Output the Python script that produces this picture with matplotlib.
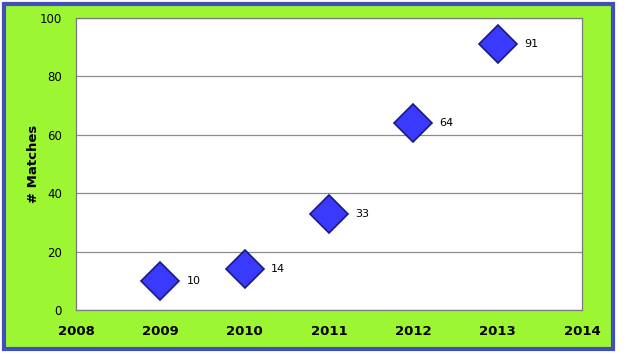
import matplotlib.pyplot as plt
from matplotlib.patches import Rectangle

years = [2009, 2010, 2011, 2012, 2013]
matches = [10, 14, 33, 64, 91]
x_ticks = [2008, 2009, 2010, 2011, 2012, 2013, 2014]
y_ticks = [0, 20, 40, 60, 80, 100]

fig = plt.figure(figsize=(6.27, 3.57), dpi=100)
fig.patch.set_facecolor("white")

# cadre vert avec bordure bleue
frame = Rectangle((4 / 627, 1 - 349 / 357), 609 / 627, 345 / 357, transform=fig.transFigure,
                  facecolor="#9cf732", edgecolor="#3f4fbf", linewidth=3, zorder=-10)
fig.add_artist(frame)

ax = fig.add_axes([76 / 627, 47 / 357, 506 / 627, 292 / 357])
ax.set_facecolor("white")
ax.set_xlim(2008, 2014)
ax.set_ylim(0, 100)
ax.set_xticks(x_ticks)
ax.set_yticks(y_ticks)
ax.grid(axis="y", color="#8c8c8c", linewidth=0.9)
ax.set_axisbelow(True)
for s in ax.spines.values():
    s.set_color("#7a7a7a")
    s.set_linewidth(0.9)

ax.plot(years, matches, linestyle="none", marker="D", markersize=19,
        markerfacecolor="#3a3aff", markeredgecolor="#1a1a80", markeredgewidth=1.2, zorder=3)
for x, y in zip(years, matches):
    ax.annotate(str(y), (x, y), xytext=(19, 0), textcoords="offset points",
                va="center", ha="left", fontsize=8)

ax.tick_params(axis="x", length=0, pad=11)
ax.tick_params(axis="y", length=0, pad=10)
for lab in ax.get_xticklabels():
    lab.set_fontweight("bold")
    lab.set_fontsize(9.5)
for lab in ax.get_yticklabels():
    lab.set_fontsize(8.5)
ax.set_ylabel("# Matches", fontsize=9.5, fontweight="bold", labelpad=0)

fig.savefig("out.png", dpi=100)
